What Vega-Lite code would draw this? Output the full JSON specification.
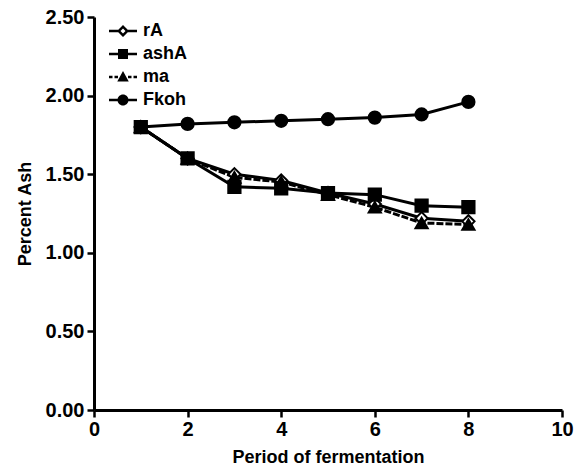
{
  "$schema": "https://vega.github.io/schema/vega-lite/v6.json",
  "width": 468,
  "height": 393,
  "autosize": "none",
  "padding": {"left": 94, "top": 17, "right": 25, "bottom": 64},
  "background": "white",
  "config": {
    "view": {"stroke": null},
    "font": "Liberation Sans",
    "axis": {
      "domainColor": "black",
      "domainWidth": 3,
      "tickColor": "black",
      "tickWidth": 2.5,
      "tickSize": 7,
      "grid": false,
      "labelFlush": false,
      "labelFont": "Liberation Sans",
      "labelFontSize": 20,
      "labelFontWeight": "bold",
      "labelColor": "black",
      "titleFont": "Liberation Sans",
      "titleFontSize": 18,
      "titleFontWeight": "bold",
      "titleColor": "black"
    }
  },
  "data": {
    "values": [
      {"series": "rA", "period": 1, "ash": 1.80},
      {"series": "rA", "period": 2, "ash": 1.60},
      {"series": "rA", "period": 3, "ash": 1.50},
      {"series": "rA", "period": 4, "ash": 1.46},
      {"series": "rA", "period": 5, "ash": 1.38},
      {"series": "rA", "period": 6, "ash": 1.31},
      {"series": "rA", "period": 7, "ash": 1.22},
      {"series": "rA", "period": 8, "ash": 1.20},
      {"series": "ashA", "period": 1, "ash": 1.80},
      {"series": "ashA", "period": 2, "ash": 1.60},
      {"series": "ashA", "period": 3, "ash": 1.42},
      {"series": "ashA", "period": 4, "ash": 1.41},
      {"series": "ashA", "period": 5, "ash": 1.38},
      {"series": "ashA", "period": 6, "ash": 1.37},
      {"series": "ashA", "period": 7, "ash": 1.30},
      {"series": "ashA", "period": 8, "ash": 1.29},
      {"series": "ma", "period": 1, "ash": 1.80},
      {"series": "ma", "period": 2, "ash": 1.60},
      {"series": "ma", "period": 3, "ash": 1.48},
      {"series": "ma", "period": 4, "ash": 1.45},
      {"series": "ma", "period": 5, "ash": 1.37},
      {"series": "ma", "period": 6, "ash": 1.29},
      {"series": "ma", "period": 7, "ash": 1.19},
      {"series": "ma", "period": 8, "ash": 1.18},
      {"series": "Fkoh", "period": 1, "ash": 1.80},
      {"series": "Fkoh", "period": 2, "ash": 1.82},
      {"series": "Fkoh", "period": 3, "ash": 1.83},
      {"series": "Fkoh", "period": 4, "ash": 1.84},
      {"series": "Fkoh", "period": 5, "ash": 1.85},
      {"series": "Fkoh", "period": 6, "ash": 1.86},
      {"series": "Fkoh", "period": 7, "ash": 1.88},
      {"series": "Fkoh", "period": 8, "ash": 1.96}
    ]
  },
  "encoding": {
    "x": {
      "field": "period",
      "type": "quantitative",
      "scale": {"domain": [0, 10], "nice": false},
      "axis": {"values": [0, 2, 4, 6, 8, 10], "title": "Period of fermentation", "titlePadding": 9, "labelPadding": 2}
    },
    "y": {
      "field": "ash",
      "type": "quantitative",
      "scale": {"domain": [0, 2.5], "nice": false},
      "axis": {"values": [0, 0.5, 1, 1.5, 2, 2.5], "format": ".2f", "title": "Percent Ash", "titlePadding": 11, "labelPadding": 3}
    }
  },
  "resolve": {"scale": {"shape": "independent"}},
  "layer": [
    {
      "transform": [{"filter": "datum.series !== 'ma'"}],
      "mark": {"type": "line", "color": "black", "strokeWidth": 3},
      "encoding": {
        "detail": {"field": "series", "type": "nominal"}
      }
    },
    {
      "transform": [{"filter": "datum.series === 'ma'"}],
      "mark": {"type": "line", "color": "black", "strokeWidth": 3, "strokeDash": [7, 2]},
      "encoding": {}
    },
    {
      "mark": {"type": "point", "filled": true, "color": "black", "stroke": "black", "strokeWidth": 2, "size": 150, "opacity": 1},
      "encoding": {
        "fill": {"condition": {"test": "datum.series === 'rA'", "value": "white"}, "value": "black"},
        "shape": {
          "field": "series",
          "type": "nominal",
          "scale": {"domain": ["rA", "ashA", "ma", "Fkoh"], "range": ["diamond", "square", "triangle-up", "circle"]},
          "legend": null
        }
      }
    },
    {
      "transform": [{"filter": "false"}],
      "mark": {"type": "point", "filled": true, "color": "black", "opacity": 1},
      "encoding": {
        "shape": {
          "field": "series",
          "type": "nominal",
          "scale": {"domain": ["rA", "ashA", "ma", "Fkoh"], "range": [
            "M-2.8,-0.25H-1V0.25H-2.8ZM1,-0.25H2.8V0.25H1ZM0,-1.2L1.2,0L0,1.2L-1.2,0ZM0,-0.5L-0.5,0L0,0.5L0.5,0Z",
            "M-2.8,-0.25H2.8V0.25H-2.8ZM-1,-1H1V1H-1Z",
            "M-2.8,-0.25H-2.1V0.25H-2.8ZM-1.7,-0.25H-1V0.25H-1.7ZM1,-0.25H1.7V0.25H1ZM2.1,-0.25H2.8V0.25H2.1ZM0,-1.2L1.15,0.9H-1.15Z",
            "M-2.8,-0.25H2.8V0.25H-2.8ZM1.1,0A1.1,1.1,0,1,1,-1.1,0A1.1,1.1,0,1,1,1.1,0Z"
          ]},
          "legend": {
            "title": null,
            "orient": "none",
            "legendX": 20,
            "legendY": 5,
            "padding": 0,
            "symbolSize": 100,
            "symbolFillColor": "black",
            "labelFont": "Liberation Sans",
            "labelFontSize": 18,
            "labelFontWeight": "bold",
            "labelColor": "black",
            "labelOffset": 11,
            "rowPadding": 5
          }
        }
      }
    }
  ]
}
